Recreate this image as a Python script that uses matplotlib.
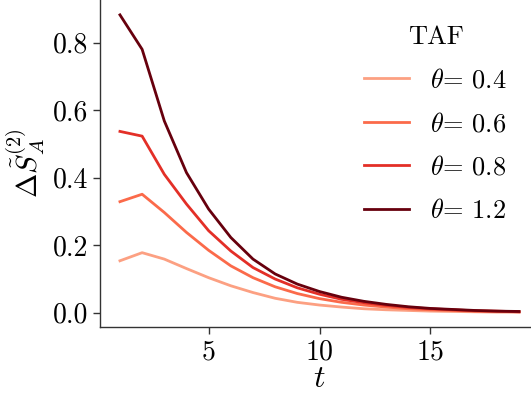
import matplotlib
matplotlib.use("Agg")
import matplotlib.pyplot as plt
import numpy as np

plt.rcParams['font.family'] = 'cmr10'
plt.rcParams['mathtext.fontset'] = 'cm'
plt.rcParams['axes.formatter.use_mathtext'] = True

t = list(range(1, 20))
thetas = ["0.4", "0.6", "0.8", "1.2"]
s_04 = [0.154, 0.178, 0.159, 0.131, 0.104, 0.080, 0.060, 0.043, 0.031, 0.023, 0.017,
        0.012, 0.009, 0.007, 0.005, 0.004, 0.003, 0.002, 0.002]
s_06 = [0.329, 0.351, 0.297, 0.238, 0.185, 0.139, 0.104, 0.077, 0.057, 0.042, 0.031,
        0.023, 0.017, 0.012, 0.009, 0.007, 0.005, 0.004, 0.003]
s_08 = [0.537, 0.523, 0.410, 0.322, 0.243, 0.183, 0.134, 0.100, 0.074, 0.055, 0.040,
        0.030, 0.022, 0.016, 0.012, 0.009, 0.006, 0.005, 0.003]
s_12 = [0.882, 0.780, 0.568, 0.415, 0.307, 0.223, 0.159, 0.115, 0.085, 0.063, 0.046,
        0.034, 0.025, 0.018, 0.013, 0.010, 0.007, 0.005, 0.004]
series = [s_04, s_06, s_08, s_12]
colors = ["#fca082", "#fb6a4a", "#e32f27", "#67000d"]

fig = plt.figure(figsize=(5.31, 3.98), dpi=100)
ax = fig.add_axes([100/531, 71/398, 439/531, 327/398])

for th, s, c in zip(thetas, series, colors):
    ax.plot(t, s, color=c, lw=2.0, label=r"$\theta$= " + th)

ax.set_xticks([5, 10, 15])
ax.set_yticks([0.0, 0.2, 0.4, 0.6, 0.8])
ax.set_yticklabels(["0.0", "0.2", "0.4", "0.6", "0.8"])
ax.tick_params(labelsize=20, length=5, width=1, color="#333333", direction="out")
for sp in ["top", "right"]:
    ax.spines[sp].set_visible(False)
for sp in ["left", "bottom"]:
    ax.spines[sp].set_color("#333333")
    ax.spines[sp].set_linewidth(1.0)

ax.set_xlabel(r"$t$", fontsize=23, labelpad=0)
ax.set_ylabel(r"$\Delta\tilde{S}_A^{(2)}$", fontsize=21, labelpad=4)

leg = ax.legend(title="TAF", fontsize=19, title_fontsize=19, frameon=False,
                loc="upper left", bbox_to_anchor=(0.548, 0.995),
                handlelength=1.7, labelspacing=0.74, handletextpad=0.8)

fig.savefig("out.png", dpi=100)
